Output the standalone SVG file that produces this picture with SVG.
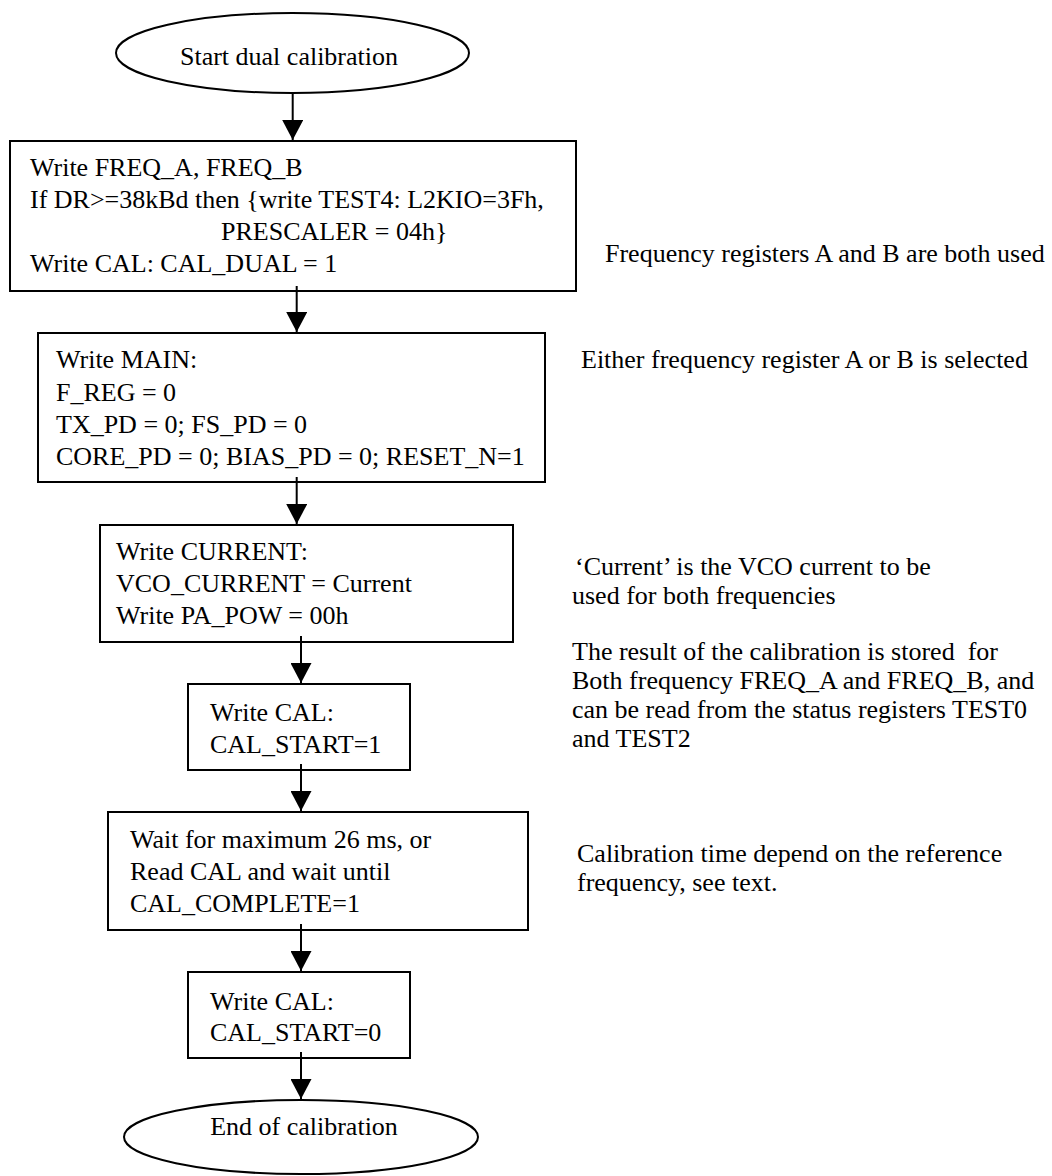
<svg xmlns="http://www.w3.org/2000/svg" width="1052" height="1176" viewBox="0 0 1052 1176">
<defs>
<marker id="ah" markerWidth="20" markerHeight="21" refX="20" refY="10.5" orient="auto" markerUnits="userSpaceOnUse" viewBox="0 0 20 21">
<path d="M0,0 L20,10.5 L0,21 Z" fill="#000"/>
</marker>
</defs>
<style>
text{font-family:"Liberation Serif","Times New Roman",serif;font-size:26px;fill:#000;white-space:pre}
.box{fill:#fff;stroke:#000;stroke-width:2}
.conn{stroke:#000;stroke-width:2;fill:none}
</style>
<rect width="1052" height="1176" fill="#fff"/>
<g id="start">
<ellipse class="box" cx="292.5" cy="53" rx="176.5" ry="40"/>
<text x="289" y="65" text-anchor="middle">Start dual calibration</text>
</g>
<g id="n1">
<rect class="box" x="10" y="141" width="566" height="150"/>
<text x="30" y="176">Write FREQ_A, FREQ_B</text>
<text x="30" y="208">If DR&gt;=38kBd then {write TEST4: L2KIO=3Fh,</text>
<text x="221" y="240">PRESCALER = 04h}</text>
<text x="30" y="272">Write CAL: CAL_DUAL = 1</text>
</g>
<g id="n2">
<rect class="box" x="38" y="333" width="507" height="149"/>
<text x="56" y="368">Write MAIN:</text>
<text x="56" y="401">F_REG = 0</text>
<text x="56" y="433">TX_PD = 0; FS_PD = 0</text>
<text x="56" y="465">CORE_PD = 0; BIAS_PD = 0; RESET_N=1</text>
</g>
<g id="n3">
<rect class="box" x="100" y="525" width="413" height="117"/>
<text x="116" y="560">Write CURRENT:</text>
<text x="116" y="592">VCO_CURRENT = Current</text>
<text x="116" y="624">Write PA_POW = 00h</text>
</g>
<g id="n4">
<rect class="box" x="188" y="684" width="222" height="86"/>
<text x="210" y="721">Write CAL:</text>
<text x="210" y="753">CAL_START=1</text>
</g>
<g id="n5">
<rect class="box" x="108" y="812" width="420" height="118"/>
<text x="130" y="848">Wait for maximum 26 ms, or</text>
<text x="130" y="880">Read CAL and wait until</text>
<text x="130" y="912">CAL_COMPLETE=1</text>
</g>
<g id="n6">
<rect class="box" x="188" y="972" width="222" height="86"/>
<text x="210" y="1010">Write CAL:</text>
<text x="210" y="1041">CAL_START=0</text>
</g>
<g id="end">
<ellipse class="box" cx="301" cy="1137" rx="177" ry="37"/>
<text x="304" y="1135" text-anchor="middle">End of calibration</text>
</g>
<g id="notes">
<text x="605" y="262">Frequency registers A and B are both used</text>
<text x="581" y="368">Either frequency register A or B is selected</text>
<text x="575" y="575">‘Current’ is the VCO current to be</text>
<text x="572" y="604">used for both frequencies</text>
<text x="572" y="660">The result of the calibration is stored  for</text>
<text x="572" y="689">Both frequency FREQ_A and FREQ_B, and</text>
<text x="572" y="718">can be read from the status registers TEST0</text>
<text x="572" y="747">and TEST2</text>
<text x="577" y="862">Calibration time depend on the reference</text>
<text x="577" y="891">frequency, see text.</text>
</g>
<g id="connectors">
<line class="conn" x1="292.7" y1="93" x2="292.7" y2="140" marker-end="url(#ah)"/>
<line class="conn" x1="296.7" y1="286" x2="296.7" y2="332" marker-end="url(#ah)"/>
<line class="conn" x1="296.7" y1="477" x2="296.7" y2="524" marker-end="url(#ah)"/>
<line class="conn" x1="301" y1="636" x2="301" y2="683" marker-end="url(#ah)"/>
<line class="conn" x1="301" y1="764" x2="301" y2="811" marker-end="url(#ah)"/>
<line class="conn" x1="301" y1="924" x2="301" y2="971" marker-end="url(#ah)"/>
<line class="conn" x1="301" y1="1052" x2="301" y2="1099" marker-end="url(#ah)"/>
</g>
</svg>
